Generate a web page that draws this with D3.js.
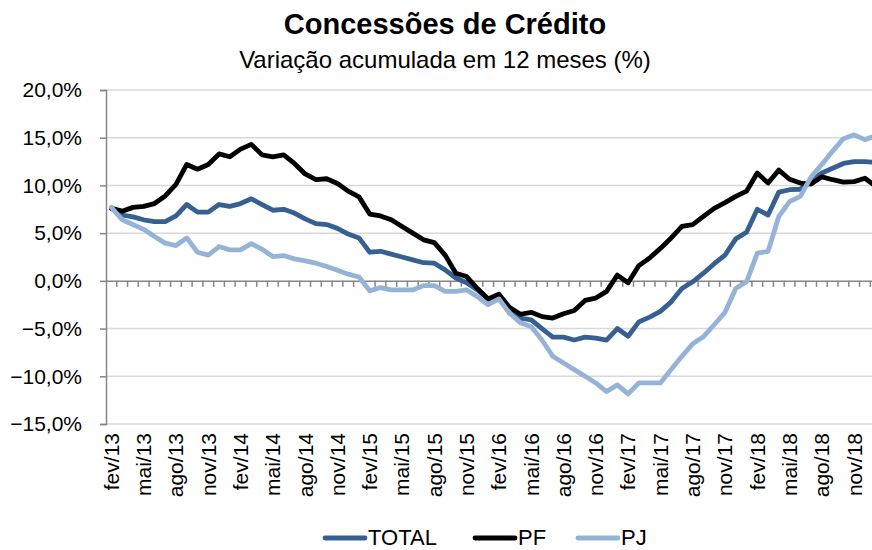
<!DOCTYPE html>
<html lang="pt-BR">
<head>
<meta charset="utf-8">
<script src="https://cdn.jsdelivr.net/npm/d3@7"></script>
<style>
  html, body { margin: 0; padding: 0; background: #fff; }
  svg { display: block; font-family: "Liberation Sans", Arial, sans-serif; }
</style>
</head>
<body>
<div id="chart"></div>
<script>
// ── Dados ────────────────────────────────────────────────────────
const MESES = [
  "fev/13","mar/13","abr/13","mai/13","jun/13","jul/13","ago/13","set/13","out/13","nov/13","dez/13","jan/14",
  "fev/14","mar/14","abr/14","mai/14","jun/14","jul/14","ago/14","set/14","out/14","nov/14","dez/14","jan/15",
  "fev/15","mar/15","abr/15","mai/15","jun/15","jul/15","ago/15","set/15","out/15","nov/15","dez/15","jan/16",
  "fev/16","mar/16","abr/16","mai/16","jun/16","jul/16","ago/16","set/16","out/16","nov/16","dez/16","jan/17",
  "fev/17","mar/17","abr/17","mai/17","jun/17","jul/17","ago/17","set/17","out/17","nov/17","dez/17","jan/18",
  "fev/18","mar/18","abr/18","mai/18","jun/18","jul/18","ago/18","set/18","out/18","nov/18","dez/18","jan/19"
];

const ROTULOS_X = ["fev/13","mai/13","ago/13","nov/13","fev/14","mai/14","ago/14","nov/14","fev/15","mai/15",
  "ago/15","nov/15","fev/16","mai/16","ago/16","nov/16","fev/17","mai/17","ago/17","nov/17","fev/18","mai/18",
  "ago/18","nov/18"];

const TICKS_Y = [-15, -10, -5, 0, 5, 10, 15, 20];

const TOTAL = [
  7.6, 6.9, 6.7, 6.4, 6.2, 6.2, 6.8, 8.0, 7.2, 7.2, 8.0, 7.8,
  8.1, 8.6, 8.0, 7.4, 7.5, 7.1, 6.5, 6.0, 5.9, 5.5, 4.9, 4.5,
  3.0, 3.1, 2.8, 2.5, 2.2, 1.9, 1.85, 1.15, 0.3, -0.2, -0.95, -1.9,
  -1.6, -3.4, -3.9, -4.1, -5.0, -5.9, -5.9, -6.2, -5.9, -6.0, -6.2, -5.0,
  -5.8, -4.3, -3.8, -3.2, -2.2, -0.8, -0.1, 0.8, 1.8, 2.7, 4.4, 5.1,
  7.5, 6.9, 9.3, 9.55, 9.6, 10.5, 11.3, 11.8, 12.3, 12.5, 12.5, 12.4
];

const PF = [
  7.6, 7.3, 7.7, 7.8, 8.1, 8.9, 10.1, 12.2, 11.7, 12.2, 13.3, 13.0,
  13.8, 14.3, 13.2, 13.0, 13.2, 12.3, 11.2, 10.6, 10.7, 10.2, 9.4, 8.8,
  7.0, 6.8, 6.4, 5.7, 5.0, 4.3, 4.0, 2.7, 0.8, 0.45, -0.8, -1.9,
  -1.4, -2.8, -3.5, -3.3, -3.75, -3.9, -3.45, -3.1, -2.05, -1.8, -1.1, 0.6,
  -0.2, 1.6, 2.4, 3.4, 4.5, 5.7, 5.9, 6.75, 7.6, 8.2, 8.85, 9.4,
  11.3, 10.25, 11.6, 10.65, 10.25, 10.15, 10.9, 10.6, 10.35, 10.4, 10.75, 9.9
];

const PJ = [
  7.7, 6.4, 5.9, 5.4, 4.65, 3.95, 3.7, 4.5, 3.0, 2.7, 3.6, 3.25,
  3.25, 3.9, 3.3, 2.55, 2.65, 2.3, 2.1, 1.85, 1.5, 1.1, 0.7, 0.4,
  -1.05, -0.7, -0.95, -0.95, -0.95, -0.5, -0.5, -1.1, -1.1, -0.95, -1.65, -2.5,
  -1.9, -3.4, -4.4, -4.8, -6.2, -7.9, -8.6, -9.3, -10.0, -10.7, -11.6, -10.9,
  -11.85, -10.7, -10.7, -10.7, -9.3, -7.9, -6.6, -5.85, -4.6, -3.3, -0.8, -0.1,
  2.9, 3.1, 6.75, 8.3, 8.85, 10.9, 12.2, 13.6, 14.9, 15.3, 14.8, 15.2
];

const SERIES = [
  { nome: "TOTAL", valores: TOTAL, cor: "#376092" },
  { nome: "PF",    valores: PF,    cor: "#000000" },
  { nome: "PJ",    valores: PJ,    cor: "#95b3d7" }
];

// ── Layout ───────────────────────────────────────────────────────
const W = 872, H = 550;
const plot = { left: 106, top: 90, bottom: 424, step: 10.765 };

const svg = d3.select("#chart").append("svg")
  .attr("width", W).attr("height", H)
  .attr("viewBox", `0 0 ${W} ${H}`);

const x = d3.scaleBand()
  .domain(MESES)
  .range([plot.left, plot.left + plot.step * MESES.length])
  .paddingInner(0).paddingOuter(0);

const y = d3.scaleLinear().domain([-15, 20]).range([plot.bottom, plot.top]);

const cx = m => x(m) + x.bandwidth() / 2;

// ── Títulos ──────────────────────────────────────────────────────
svg.append("text")
  .attr("x", 445).attr("y", 34)
  .attr("text-anchor", "middle")
  .attr("font-size", 29).attr("font-weight", "bold")
  .text("Concessões de Crédito");

svg.append("text")
  .attr("x", 445).attr("y", 68)
  .attr("text-anchor", "middle")
  .attr("font-size", 24)
  .text("Variação acumulada em 12 meses (%)");

// ── Grade e eixo Y ───────────────────────────────────────────────
svg.append("g")
  .selectAll("line")
  .data(TICKS_Y.filter(v => v !== 0))
  .join("line")
  .attr("x1", plot.left).attr("x2", W)
  .attr("y1", d => y(d)).attr("y2", d => y(d))
  .attr("stroke", "#d9d9d9").attr("stroke-width", 1.5);

const yAxis = svg.append("g")
  .attr("transform", `translate(${plot.left},0)`)
  .call(d3.axisLeft(y).tickValues(TICKS_Y).tickSize(6).tickPadding(18)
    .tickFormat(d => d3.format(".1f")(d).replace(".", ",") + "%"));
yAxis.select(".domain").attr("stroke", "#868686").attr("stroke-width", 1.5);
yAxis.selectAll(".tick line").attr("stroke", "#868686").attr("stroke-width", 1.5);
yAxis.selectAll(".tick text")
  .attr("font-size", 21).attr("fill", "#000")
  .attr("font-family", "Liberation Sans, Arial, sans-serif");

// ── Eixo X (em 0%) ───────────────────────────────────────────────
const xAxis = svg.append("g")
  .attr("transform", `translate(0,${y(0)})`)
  .call(d3.axisBottom(x).tickSize(0).tickFormat(""));
xAxis.select(".domain").attr("stroke", "#868686").attr("stroke-width", 1.5);

svg.append("g")
  .selectAll("line")
  .data(MESES.slice(1))
  .join("line")
  .attr("x1", d => x(d)).attr("x2", d => x(d))
  .attr("y1", y(0)).attr("y2", y(0) + 6)
  .attr("stroke", "#868686").attr("stroke-width", 1.5);

svg.append("g")
  .selectAll("text")
  .data(ROTULOS_X)
  .join("text")
  .attr("transform", d => `translate(${cx(d)},${plot.bottom + 9}) rotate(-90)`)
  .attr("text-anchor", "end")
  .attr("dy", "0.35em")
  .attr("font-size", 21)
  .text(d => d);

// ── Linhas ───────────────────────────────────────────────────────
const line = d3.line()
  .x((d, i) => cx(MESES[i]))
  .y(d => y(d));

svg.append("g")
  .selectAll("path")
  .data(SERIES)
  .join("path")
  .attr("d", s => line(s.valores))
  .attr("fill", "none")
  .attr("stroke", s => s.cor)
  .attr("stroke-width", 4.8)
  .attr("stroke-linejoin", "round")
  .attr("stroke-linecap", "round");

// ── Legenda ──────────────────────────────────────────────────────
const legX = [325, 475, 578];
const leg = svg.append("g")
  .selectAll("g")
  .data(SERIES)
  .join("g")
  .attr("transform", (s, i) => `translate(${legX[i]},538)`);

leg.append("line")
  .attr("x1", 0).attr("x2", 40)
  .attr("stroke", s => s.cor).attr("stroke-width", 4.8)
  .attr("stroke-linecap", "round");

leg.append("text")
  .attr("x", 43).attr("y", 7)
  .attr("font-size", 22)
  .text(s => s.nome);
</script>
</body>
</html>
